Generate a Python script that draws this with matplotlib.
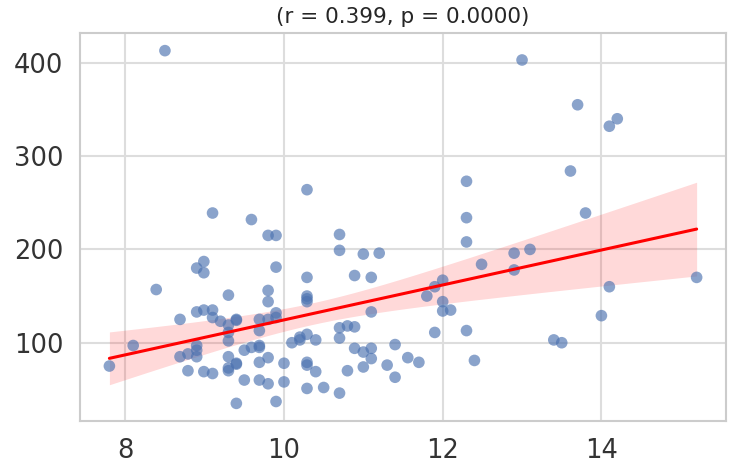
import numpy as np
import matplotlib
matplotlib.use("Agg")
import matplotlib.pyplot as plt
import seaborn as sns

x_vals = [8.50, 10.29, 9.10, 9.59, 9.80, 9.90, 10.70, 10.70, 11.00, 11.20,
          8.99, 8.90, 8.99, 9.90, 10.29, 10.89, 11.10, 8.39, 9.30, 9.80,
          9.80, 10.29, 10.29, 10.29, 8.90, 8.99, 9.10, 9.10, 8.69, 9.20,
          9.30, 9.40, 9.40, 9.69, 9.90, 9.90, 9.80, 11.10, 9.30, 9.30,
          9.69, 10.70, 10.80, 10.89, 10.70, 10.10, 10.20, 10.20, 10.29, 10.40,
          8.10, 7.80, 8.90, 8.90, 8.90, 8.69, 8.79, 8.79, 8.99, 9.10,
          9.30, 9.30, 9.30, 9.40, 9.40, 9.50, 9.59, 9.69, 9.69, 9.69,
          9.80, 9.50, 9.69, 9.80, 10.00, 10.00, 10.29, 10.29, 10.40, 10.29,
          10.50, 10.70, 10.80, 11.00, 10.89, 11.00, 11.10, 11.10, 11.30, 11.40,
          11.40, 11.56, 9.40, 9.90,
          13.00, 13.70, 14.20, 14.10, 13.61, 12.30, 12.30, 13.80, 12.30, 12.49,
          12.90, 13.10, 12.90, 12.00, 11.90, 11.80, 12.00, 12.00, 12.10, 15.20,
          14.10, 14.00, 11.90, 12.30, 13.40, 13.50, 11.70, 12.40]

y_vals = [413, 264, 239, 232, 215, 215, 216, 199, 195, 196,
          187, 180, 175, 181, 170, 172, 170, 157, 151, 156,
          144, 150, 147, 144, 133, 135, 135, 127, 125, 123,
          119, 125, 124, 125, 132, 127, 125, 133, 111, 102,
          113, 116, 118, 117, 105, 100, 103, 106, 109, 103,
          97, 75, 97, 92, 85, 85, 88, 70, 69, 67,
          85, 70, 73, 78, 77, 92, 95, 97, 95, 79,
          84, 60, 60, 56, 78, 58, 79, 76, 69, 51,
          52, 46, 70, 74, 94, 90, 94, 83, 76, 98,
          63, 84, 35, 37,
          403, 355, 340, 332, 284, 273, 234, 239, 208, 184,
          196, 200, 178, 167, 160, 150, 144, 134, 135, 170,
          160, 129, 111, 113, 103, 100, 79, 81]

title_text = "(r = 0.399, p = 0.0000)"
x_ticks = [8, 10, 12, 14]
y_ticks = [100, 200, 300, 400]

sns.set_theme(style="whitegrid")
plt.rcParams['font.family'] = ['DejaVu Sans']

fig = plt.figure(figsize=(7.5, 4.63), dpi=100)
ax = fig.add_axes([0.1067, 0.0907, 0.8613, 0.838])

x = np.array(x_vals, dtype=float)
y = np.array(y_vals, dtype=float)

ax.scatter(x, y, s=70, color="#4c72b0", alpha=0.65, edgecolors="none", zorder=2)

# linear fit with heteroscedasticity-robust 95% CI (similar to pairs bootstrap)
n = len(x)
X = np.column_stack([np.ones(n), x])
XtX_inv = np.linalg.inv(X.T @ X)
beta = XtX_inv @ X.T @ y
e = y - X @ beta
meat = X.T @ (X * (e ** 2)[:, None])
cov = XtX_inv @ meat @ XtX_inv * n / (n - 2)
xg = np.linspace(x.min(), x.max(), 100)
G = np.column_stack([np.ones_like(xg), xg])
yg = G @ beta
se = np.sqrt(np.einsum("ij,jk,ik->i", G, cov, G))
t = 1.96
ax.fill_between(xg, yg - t * se, yg + t * se, color="red", alpha=0.15,
                linewidth=0, zorder=1)
ax.plot(xg, yg, color="red", linewidth=2.2, zorder=3)

ax.set_xticks(x_ticks)
ax.set_yticks(y_ticks)
ax.tick_params(axis="both", labelsize=18.5, colors="#333333", pad=6)
for sp in ax.spines.values():
    sp.set_color("#cccccc")
    sp.set_linewidth(1.5)
ax.grid(True, color="#dddddd", linewidth=1.5)
ax.set_title(title_text, fontsize=15.5, color="#262626", pad=7)

fig.savefig("out.png", dpi=100)
